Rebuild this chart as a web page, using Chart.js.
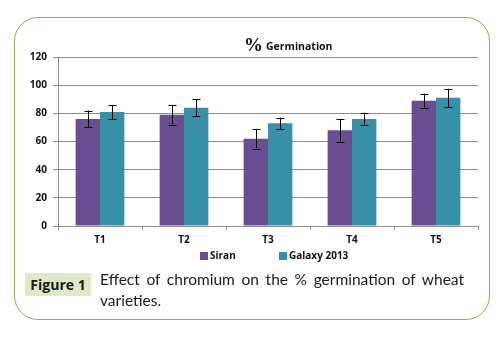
<!DOCTYPE html>
<html>
<head>
<meta charset="utf-8">
<script src="https://cdn.jsdelivr.net/npm/chart.js@4.4.1/dist/chart.umd.min.js"></script>
<style>
  html, body { margin: 0; padding: 0; background: #fff; }
  #wrap { position: relative; width: 503px; height: 338px; overflow: hidden; }
  #frame {
    position: absolute; left: 14px; top: 17px; width: 474px; height: 301px;
    border: 1.5px solid #8bb152; border-radius: 24px;
  }
  #chart { position: absolute; left: 0; top: 0; }
  #figTag {
    position: absolute; left: 25px; top: 273px; width: 66px; height: 23px;
    background: #dfe9c7; font: bold 14px "Open Sans", sans-serif; color: #1a1a1a;
    text-align: center; line-height: 23px;
  }
  #caption {
    position: absolute; left: 100px; top: 269px; width: 364px;
    font: 15.5px "Lato", sans-serif; color: #1a1a1a; line-height: 21px;
    text-align: justify; text-align-last: left;
  }
</style>
</head>
<body>
<div id="wrap">
  <div id="frame"></div>
  <canvas id="chart" width="503" height="338"></canvas>
  <div id="figTag">Figure 1</div>
  <div id="caption">Effect of chromium on the % germination of wheat varieties.</div>
</div>
<script>
// ================= DATA =================
const treatments = ["T1", "T2", "T3", "T4", "T5"];
const siran = [76, 79, 62, 68, 89];
const siranErr = [6, 7, 7, 8, 5];
const galaxy = [81, 84, 73, 76, 91];
const galaxyErr = [5, 6, 4, 4.5, 6.5];
const yTicks = [0, 20, 40, 60, 80, 100, 120];
const swatches = ["#6a4d93", "#3890a6"];

// ================= BAR FILLS =================
function barFill(ctx, light, mid, dark) {
  const chart = ctx.chart;
  const el = ctx.element;
  if (!chart.chartArea || !el || el.x === undefined) return mid;
  const half = el.width / 2;
  const g = chart.ctx.createLinearGradient(el.x - half, 0, el.x + half, 0);
  g.addColorStop(0, dark);
  g.addColorStop(0.08, light);
  g.addColorStop(0.5, mid);
  g.addColorStop(0.9, mid);
  g.addColorStop(1, dark);
  return g;
}

// ================= ERROR BARS =================
const errorBars = {
  id: "errorBars",
  afterDatasetsDraw(chart) {
    const ctx = chart.ctx;
    const y = chart.scales.y;
    const errs = [siranErr, galaxyErr];
    ctx.save();
    ctx.strokeStyle = "#000";
    ctx.lineWidth = 1;
    chart.data.datasets.forEach((ds, i) => {
      chart.getDatasetMeta(i).data.forEach((bar, j) => {
        const x = Math.round(bar.x) + 0.5;
        const top = y.getPixelForValue(ds.data[j] + errs[i][j]);
        const bot = y.getPixelForValue(ds.data[j] - errs[i][j]);
        ctx.beginPath();
        ctx.moveTo(x, top); ctx.lineTo(x, bot);
        ctx.moveTo(x - 4, Math.round(top) + 0.5); ctx.lineTo(x + 4, Math.round(top) + 0.5);
        ctx.moveTo(x - 4, Math.round(bot) + 0.5); ctx.lineTo(x + 4, Math.round(bot) + 0.5);
        ctx.stroke();
      });
    });
    ctx.restore();
  }
};

// ================= TITLE + LEGEND =================
const titleAndLegend = {
  id: "titleAndLegend",
  afterDraw(chart) {
    const ctx = chart.ctx;
    ctx.save();
    ctx.fillStyle = "#111";
    ctx.textBaseline = "alphabetic";
    ctx.font = "bold 19px 'Liberation Serif', serif";
    ctx.fillText("%", 244, 51);
    ctx.font = "bold 10.5px 'Open Sans', sans-serif";
    ctx.fillText("Germination", 266, 50);

    // legend row under the category labels
    const legendX = [200, 279];
    ctx.font = "bold 10px 'Open Sans', sans-serif";
    ctx.textBaseline = "middle";
    chart.data.datasets.forEach((ds, i) => {
      ctx.fillStyle = swatches[i];
      ctx.fillRect(legendX[i], 252, 8, 8);
      ctx.fillStyle = "#111";
      ctx.fillText(ds.label, legendX[i] + 10, 256);
    });
    ctx.restore();
  }
};

new Chart(document.getElementById("chart"), {
  type: "bar",
  data: {
    labels: treatments,
    datasets: [
      {
        label: "Siran",
        data: siran,
        backgroundColor: c => barFill(c, "#8165aa", "#6a4d93", "#4e3670"),
        borderWidth: 0,
        categoryPercentage: 0.58,
        barPercentage: 1
      },
      {
        label: "Galaxy 2013",
        data: galaxy,
        backgroundColor: c => barFill(c, "#55a9bd", "#3890a6", "#256e82"),
        borderWidth: 0,
        categoryPercentage: 0.58,
        barPercentage: 1
      }
    ]
  },
  options: {
    responsive: false,
    animation: false,
    layout: { padding: { left: 0, right: 25, top: 57, bottom: 86 } },
    plugins: {
      legend: { display: false },
      tooltip: { enabled: false }
    },
    scales: {
      x: {
        grid: { drawOnChartArea: false, color: "#8c8c8c", tickLength: 4, offset: true },
        border: { color: "#8c8c8c" },
        ticks: {
          color: "#111",
          padding: 4,
          font: { family: "'Open Sans', sans-serif", size: 10, weight: "bold" }
        },
        afterFit: s => { s.height = 26; }
      },
      y: {
        min: 0,
        max: 120,
        afterBuildTicks: s => { s.ticks = yTicks.map(v => ({ value: v })); },
        grid: { color: "#8c8c8c", tickLength: 5 },
        border: { color: "#8c8c8c" },
        ticks: {
          color: "#111",
          padding: 6,
          font: { family: "'Open Sans', sans-serif", size: 10, weight: "bold" }
        },
        afterFit: s => { s.width = 58; }
      }
    }
  },
  plugins: [errorBars, titleAndLegend]
});
</script>
</body>
</html>
